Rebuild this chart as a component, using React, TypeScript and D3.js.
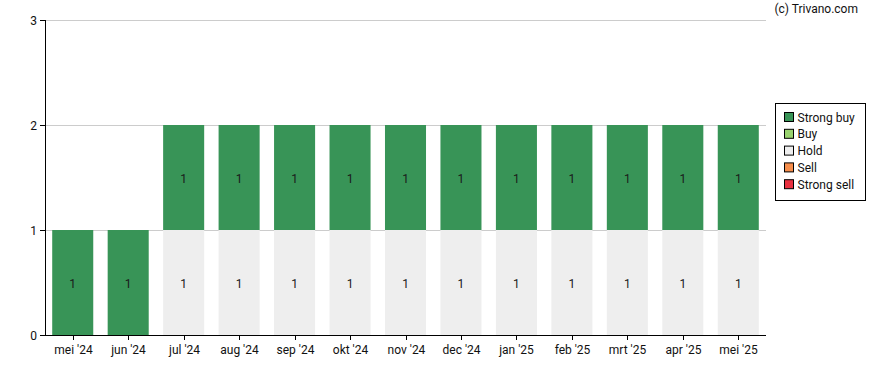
import React, { useRef, useEffect } from 'react';
import * as d3 from 'd3';

const months = ["mei '24", "jun '24", "jul '24", "aug '24", "sep '24", "okt '24", "nov '24", "dec '24", "jan '25", "feb '25", "mrt '25", "apr '25", "mei '25"];
const strongBuy = [1, 1, 1, 1, 1, 1, 1, 1, 1, 1, 1, 1, 1];
const buy = [0, 0, 0, 0, 0, 0, 0, 0, 0, 0, 0, 0, 0];
const hold = [0, 0, 1, 1, 1, 1, 1, 1, 1, 1, 1, 1, 1];
const sell = [0, 0, 0, 0, 0, 0, 0, 0, 0, 0, 0, 0, 0];
const strongSell = [0, 0, 0, 0, 0, 0, 0, 0, 0, 0, 0, 0, 0];
const yTicks = [0, 1, 2, 3];

// bottom to top stacking order
const seriesDefs = [
  { key: 'Strong sell', values: strongSell, color: '#e8303f' },
  { key: 'Sell', values: sell, color: '#f58d4b' },
  { key: 'Hold', values: hold, color: '#eeeeee' },
  { key: 'Buy', values: buy, color: '#99d36f' },
  { key: 'Strong buy', values: strongBuy, color: '#389457' },
];

const W = 888;
const H = 370;
const margin = { left: 45, right: 122, top: 20, bottom: 35 };
const FONT = 'Roboto, Arial, sans-serif';

export default function App() {
  const svgRef = useRef<SVGSVGElement | null>(null);

  useEffect(() => {
    if (!svgRef.current) return;
    const svg = d3.select(svgRef.current);
    svg.selectAll('*').remove();

    const x0 = margin.left, x1 = W - margin.right;
    const yTop = margin.top, yBot = H - margin.bottom;

    const x = d3.scaleBand<string>().domain(months).range([x0, x1])
      .paddingInner(0.26).paddingOuter(0.13);
    const y = d3.scaleLinear().domain([0, 3]).range([yBot, yTop]);

    // grid
    svg.append('g').selectAll('line')
      .data(yTicks.filter(t => t > 0))
      .enter().append('line')
      .attr('x1', x0).attr('x2', x1)
      .attr('y1', d => y(d) + 0.5).attr('y2', d => y(d) + 0.5)
      .attr('stroke', '#cccccc').attr('stroke-width', 1);

    // stacked bars
    const table = months.map((m, i) => {
      const row: any = { month: m };
      seriesDefs.forEach(s => { row[s.key] = s.values[i]; });
      return row;
    });
    const stack = d3.stack().keys(seriesDefs.map(s => s.key))(table);

    stack.forEach((layer, li) => {
      const color = seriesDefs[li].color;
      const g = svg.append('g');
      layer.forEach((seg, i) => {
        const v = seg[1] - seg[0];
        if (v <= 0) return;
        g.append('rect')
          .attr('x', x(months[i])!)
          .attr('y', y(seg[1]))
          .attr('width', x.bandwidth())
          .attr('height', y(seg[0]) - y(seg[1]))
          .attr('fill', color);
        g.append('text')
          .attr('x', x(months[i])! + x.bandwidth() / 2)
          .attr('y', (y(seg[0]) + y(seg[1])) / 2 + 5)
          .attr('text-anchor', 'middle')
          .attr('font-family', FONT)
          .attr('font-size', '12px')
          .attr('fill', '#1a1a1a')
          .text(v);
      });
    });

    // y axis
    svg.append('line')
      .attr('x1', x0 + 0.5).attr('x2', x0 + 0.5)
      .attr('y1', yTop).attr('y2', yBot + 1)
      .attr('stroke', '#000');
    yTicks.forEach(t => {
      svg.append('line')
        .attr('x1', x0 - 5).attr('x2', x0)
        .attr('y1', y(t) + 0.5).attr('y2', y(t) + 0.5)
        .attr('stroke', '#000');
      svg.append('text')
        .attr('x', x0 - 8).attr('y', y(t) + 4.5)
        .attr('text-anchor', 'end')
        .attr('font-family', FONT).attr('font-size', '12px')
        .attr('fill', '#111')
        .text(t);
    });

    // x axis
    svg.append('line')
      .attr('x1', x0).attr('x2', x1)
      .attr('y1', yBot + 0.5).attr('y2', yBot + 0.5)
      .attr('stroke', '#000');
    months.forEach(m => {
      const cx = Math.round(x(m)! + x.bandwidth() / 2) + 0.5;
      svg.append('line')
        .attr('x1', cx).attr('x2', cx)
        .attr('y1', yBot).attr('y2', yBot + 5)
        .attr('stroke', '#000');
      svg.append('text')
        .attr('x', cx).attr('y', yBot + 19)
        .attr('text-anchor', 'middle')
        .attr('font-family', FONT).attr('font-size', '12px')
        .attr('fill', '#111')
        .text(m);
    });

    // copyright
    svg.append('text')
      .attr('x', 858).attr('y', 13)
      .attr('text-anchor', 'end')
      .attr('font-family', FONT).attr('font-size', '12px')
      .attr('fill', '#111')
      .text('(c) Trivano.com');

    // legend
    const lg = svg.append('g').attr('transform', 'translate(775.5, 103.5)');
    lg.append('rect')
      .attr('width', 90).attr('height', 97)
      .attr('fill', '#fff').attr('stroke', '#000');
    const legendItems = seriesDefs.slice().reverse();
    legendItems.forEach((s, i) => {
      const ly = 9 + i * 16.8;
      lg.append('rect')
        .attr('x', 9).attr('y', ly)
        .attr('width', 9).attr('height', 9)
        .attr('fill', s.color).attr('stroke', '#000');
      lg.append('text')
        .attr('x', 22).attr('y', ly + 9)
        .attr('font-family', FONT).attr('font-size', '12px')
        .attr('fill', '#111')
        .text(s.key);
    });
  }, []);

  return (
    <div style={{ position: 'absolute', left: 0, top: 0, width: W, height: H, background: '#fff' }}>
      <svg ref={svgRef} width={W} height={H} style={{ display: 'block' }} />
    </div>
  );
}
